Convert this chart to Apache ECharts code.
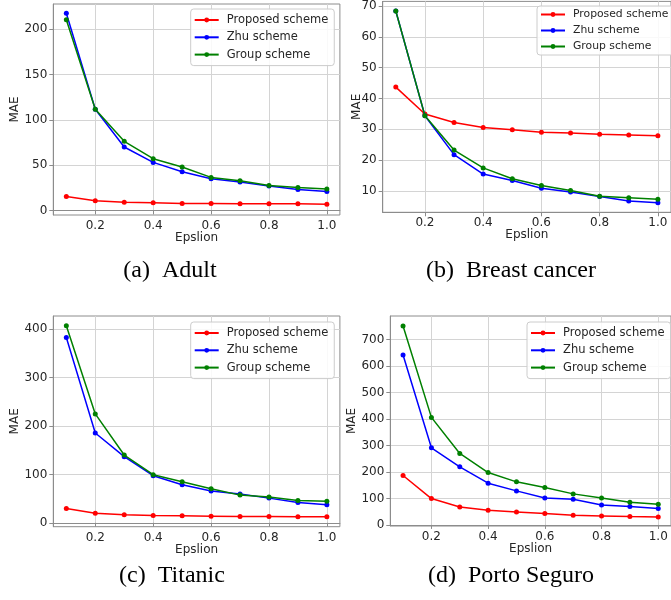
<!DOCTYPE html>
<html>
<head>
<meta charset="utf-8">
<style>
html,body{margin:0;padding:0;background:#fff;}
#chart{width:671px;height:600px;}
</style>
<script src="https://cdn.jsdelivr.net/npm/echarts@6/dist/echarts.min.js"></script>
</head>
<body>
<div id="chart"></div>
<script>
// ---- data ----
const EPS = [0.1, 0.2, 0.3, 0.4, 0.5, 0.6, 0.7, 0.8, 0.9, 1.0];
const SERIES_NAMES = ['Proposed scheme', 'Zhu scheme', 'Group scheme'];

const adultProposed = [15.5, 10.7, 9.2, 8.5, 7.7, 7.7, 7.4, 7.4, 7.4, 7.0];
const adultZhu      = [217.7, 111.8, 70.1, 53.1, 42.8, 35.1, 31.4, 26.9, 23.2, 21.0];
const adultGroup    = [210.7, 111.8, 76.4, 57.2, 48.0, 36.5, 32.8, 27.7, 25.5, 23.6];

const breastProposed = [43.7, 35.0, 32.2, 30.6, 29.9, 29.1, 28.8, 28.4, 28.2, 27.9];
const breastZhu      = [68.4, 34.4, 21.8, 15.5, 13.4, 10.9, 9.7, 8.2, 6.8, 6.2];
const breastGroup    = [68.4, 34.4, 23.3, 17.5, 14.0, 11.8, 10.2, 8.3, 7.8, 7.3];

const titanicProposed = [29.7, 20.0, 16.6, 15.2, 14.5, 13.8, 13.1, 13.1, 12.4, 12.4];
const titanicZhu      = [382.8, 185.5, 136.6, 97.2, 78.6, 65.5, 59.3, 51.0, 42.1, 37.2];
const titanicGroup    = [406.9, 224.8, 140.0, 99.3, 84.8, 70.3, 57.2, 53.1, 46.2, 44.8];

const portoProposed = [186.6, 99.6, 68.1, 55.5, 49.2, 42.9, 36.6, 34.0, 31.5, 30.3];
const portoZhu      = [641.9, 291.3, 219.4, 157.6, 128.6, 102.1, 97.1, 75.7, 69.4, 61.8];
const portoGroup    = [751.6, 406.1, 269.9, 198.0, 162.7, 141.2, 117.3, 102.1, 85.8, 78.2];

const xTicks = [0.2, 0.4, 0.6, 0.8, 1.0];
const adultYTicks   = [0, 50, 100, 150, 200];
const breastYTicks  = [10, 20, 30, 40, 50, 60, 70];
const titanicYTicks = [0, 100, 200, 300, 400];
const portoYTicks   = [0, 100, 200, 300, 400, 500, 600, 700];

const captions = ['(a)  Adult', '(b)  Breast cancer', '(c)  Titanic', '(d)  Porto Seguro'];
const xName = 'Epslion';
const yName = 'MAE';

// ---- layout ----
const COLORS = ['#ff0000', '#0000ff', '#008000'];
const panels = [
  { grid: {left: 53.3, top: 4, width: 286.6, height: 211}, ymin: -5, ymax: 228, yTicks: adultYTicks,
    vals: [adultProposed, adultZhu, adultGroup], yGap: 32, xGap: 17,
    legend: {left: 190.7, top: 9, fs: 11.5, lh: 14, gap: 3.3, tp: 4},
    cap: {x: 170, y: 259}, tick: 12 },
  { grid: {left: 382.7, top: 1.4, width: 297.8, height: 210.9}, ymin: 3.1, ymax: 71.5, yTicks: breastYTicks,
    vals: [breastProposed, breastZhu, breastGroup], yGap: 20, xGap: 17,
    legend: {left: 537, top: 6, fs: 10.8, lh: 13, gap: 3, tp: 2},
    cap: {x: 511, y: 259}, tick: 12 },
  { grid: {left: 53.3, top: 316, width: 286.6, height: 210.7}, ymin: -8, ymax: 427, yTicks: titanicYTicks,
    vals: [titanicProposed, titanicZhu, titanicGroup], yGap: 32, xGap: 17,
    legend: {left: 190.7, top: 322, fs: 11.5, lh: 14, gap: 3.3, tp: 4},
    cap: {x: 172, y: 564}, tick: 12 },
  { grid: {left: 390.3, top: 316, width: 287.1, height: 210}, ymin: -4, ymax: 789, yTicks: portoYTicks,
    vals: [portoProposed, portoZhu, portoGroup], yGap: 32, xGap: 17,
    legend: {left: 527, top: 322, fs: 11.5, lh: 14, gap: 3.3, tp: 4},
    cap: {x: 511, y: 564}, tick: 12 }
];

const FONT = 'DejaVu Sans';
const option = { animation: false, backgroundColor: '#fff',
  grid: [], xAxis: [], yAxis: [], series: [], legend: [], title: [] };

panels.forEach((p, i) => {
  option.grid.push(Object.assign({ show: true, borderColor: '#8c8c8c', borderWidth: 1, containLabel: false }, p.grid));
  option.xAxis.push({
    type: 'value', gridIndex: i, min: 0.055, max: 1.045,
    name: xName, nameLocation: 'middle', nameGap: p.xGap, nameMoveOverlap: false,
    nameTextStyle: { fontFamily: FONT, fontSize: 12, color: '#262626' },
    axisLine: { show: true, lineStyle: { color: '#8c8c8c', width: 1 } },
    axisTick: { show: true, length: 4, customValues: xTicks, lineStyle: { color: '#8c8c8c' } },
    axisLabel: { customValues: xTicks, fontFamily: FONT, fontSize: p.tick, color: '#262626', margin: 5,
      formatter: v => v.toFixed(1) },
    splitLine: { show: true, lineStyle: { color: '#d4d4d4', width: 1 } }
  });
  option.yAxis.push({
    type: 'value', gridIndex: i, min: p.ymin, max: p.ymax,
    name: yName, nameLocation: 'middle', nameGap: p.yGap, nameMoveOverlap: false,
    nameTextStyle: { fontFamily: FONT, fontSize: 12, color: '#262626' },
    axisLine: { show: true, lineStyle: { color: '#8c8c8c', width: 1 } },
    axisTick: { show: true, length: 4, customValues: p.yTicks, lineStyle: { color: '#8c8c8c' } },
    axisLabel: { customValues: p.yTicks, fontFamily: FONT, fontSize: p.tick, color: '#262626', margin: 6 },
    splitLine: { show: true, lineStyle: { color: '#d4d4d4', width: 1 } }
  });
  SERIES_NAMES.forEach((name, k) => {
    option.series.push({
      type: 'line', name: name, xAxisIndex: i, yAxisIndex: i,
      data: EPS.map((x, j) => [x, p.vals[k][j]]),
      symbol: 'circle', symbolSize: 5, showSymbol: true,
      lineStyle: { color: COLORS[k], width: 1.5 },
      itemStyle: { color: COLORS[k] },
      z: 2 + k
    });
  });
  option.legend.push({
    data: SERIES_NAMES, orient: 'vertical', left: p.legend.left, top: p.legend.top,
    itemWidth: 24, itemHeight: 6, itemGap: p.legend.gap,
    padding: [p.legend.tp, 6, p.legend.tp, 3],
    backgroundColor: 'rgba(255,255,255,0.85)', borderColor: '#cccccc', borderWidth: 1, borderRadius: 3,
    textStyle: { fontFamily: FONT, fontSize: p.legend.fs, color: '#262626', lineHeight: p.legend.lh,
      padding: [0, 0, 0, 3] },
    selectedMode: false
  });
  option.title.push({
    text: captions[i], left: p.cap.x, top: p.cap.y, textAlign: 'center', padding: 0,
    textStyle: { fontFamily: 'Liberation Serif', fontSize: 24, fontWeight: 'normal', color: '#000' }
  });
});

const chart = echarts.init(document.getElementById('chart'), null, { renderer: 'canvas' });
chart.setOption(option);
</script>
</body>
</html>
